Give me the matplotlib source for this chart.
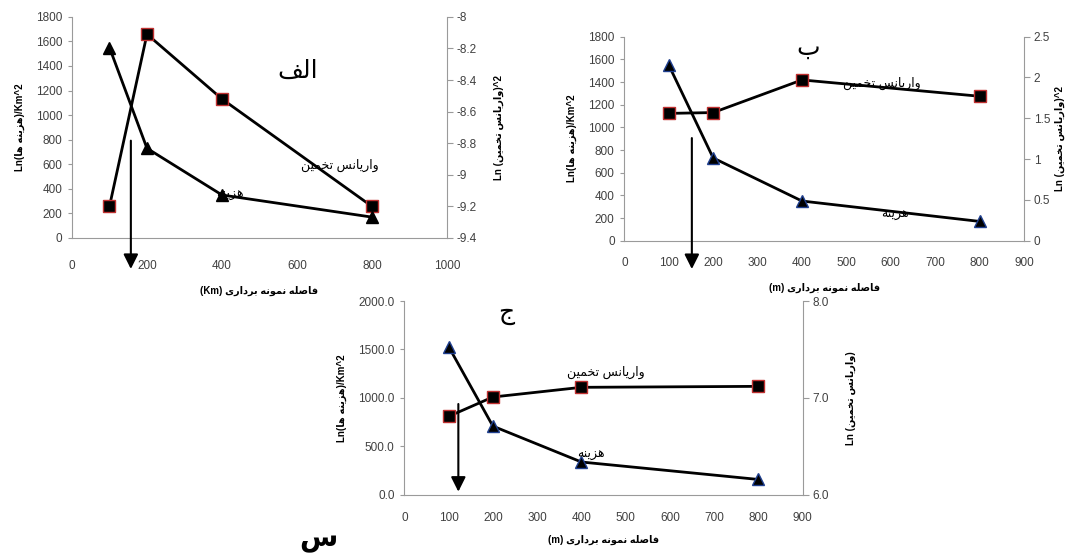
import matplotlib
matplotlib.use('Agg')
import matplotlib.pyplot as plt

plt.rcParams['font.family'] = ['Liberation Sans', 'DejaVu Sans']

# ----- DATA -----
x_km = [100, 200, 400, 800]
cost_a = [1550, 730, 350, 170]
var_a = [-9.2, -8.11, -8.52, -9.2]

x_m = [100, 200, 400, 800]
cost_b = [1550, 730, 350, 170]
var_b = [1.56, 1.57, 1.97, 1.77]

cost_c = [1530, 710, 340, 160]
var_c = [6.81, 7.01, 7.11, 7.12]

# ----- simple persian shaping (matplotlib has no bidi / joining) -----
FORMS = {
    'ا': ('\uFE8D', '\uFE8E', None, None),
    'ب': ('\uFE8F', '\uFE90', '\uFE91', '\uFE92'),
    'ت': ('\uFE95', '\uFE96', '\uFE97', '\uFE98'),
    'ج': ('\uFE9D', '\uFE9E', '\uFE9F', '\uFEA0'),
    'خ': ('\uFEA5', '\uFEA6', '\uFEA7', '\uFEA8'),
    'د': ('\uFEA9', '\uFEAA', None, None),
    'ر': ('\uFEAD', '\uFEAE', None, None),
    'ز': ('\uFEAF', '\uFEB0', None, None),
    'س': ('\uFEB1', '\uFEB2', '\uFEB3', '\uFEB4'),
    'ص': ('\uFEB9', '\uFEBA', '\uFEBB', '\uFEBC'),
    'ف': ('\uFED1', '\uFED2', '\uFED3', '\uFED4'),
    'ل': ('\uFEDD', '\uFEDE', '\uFEDF', '\uFEE0'),
    'م': ('\uFEE1', '\uFEE2', '\uFEE3', '\uFEE4'),
    'ن': ('\uFEE5', '\uFEE6', '\uFEE7', '\uFEE8'),
    'ه': ('\uFEE9', '\uFEEA', '\uFEEB', '\uFEEC'),
    'و': ('\uFEED', '\uFEEE', None, None),
    'ی': ('\uFEEF', '\uFEF0', '\uFEF3', '\uFEF4'),
}


def fa(text):
    out = []
    for i, ch in enumerate(text):
        if ch not in FORMS:
            out.append(ch)
            continue
        prev = text[i - 1] if i > 0 else ''
        nxt = text[i + 1] if i + 1 < len(text) else ''
        join_prev = prev in FORMS and FORMS[prev][2] is not None
        join_next = nxt in FORMS and FORMS[ch][2] is not None
        iso, fin, ini, med = FORMS[ch]
        if join_prev and join_next:
            out.append(med)
        elif join_prev:
            out.append(fin)
        elif join_next:
            out.append(ini)
        else:
            out.append(iso)
    return ''.join(out)[::-1]


lbl_var = fa('واریانس تخمین')
lbl_cost = fa('هزینه')
ylab_left = 'Ln(' + fa('هزینه ها') + ')/Km^2'
ylab_right = 'Ln (' + fa('واریانس تخمین') + ')^2'
xlab_km = '(Km) ' + fa('فاصله نمونه برداری')
xlab_m = '(m) ' + fa('فاصله نمونه برداری')

fig = plt.figure(figsize=(10.68, 5.6), dpi=100)

TICKC = '#404040'
SPC = '#9a9a9a'


def style(ax, ax2, xpad):
    for s in ['top', 'right']:
        ax.spines[s].set_visible(False)
    ax.spines['left'].set_color(SPC)
    ax.spines['bottom'].set_color(SPC)
    for s in ['top', 'left', 'bottom']:
        ax2.spines[s].set_visible(False)
    ax2.spines['right'].set_color(SPC)
    ax.tick_params(axis='y', colors=SPC, labelcolor=TICKC, labelsize=8.5, length=3, pad=4)
    ax.tick_params(axis='x', colors=SPC, labelcolor=TICKC, labelsize=8.5, length=0, pad=xpad)
    ax2.tick_params(axis='y', colors=SPC, labelcolor=TICKC, labelsize=8.5, length=4, pad=3)
    ax.set_facecolor('none')


def draw(ax, ax2, x, cost, var, tri_edge):
    ax2.plot(x, var, color='black', lw=2, marker='s', ms=9,
             mfc='black', mec='#c03030', mew=1, zorder=3)
    ax.plot(x, cost, color='black', lw=2, marker='^', ms=8,
            mfc='black', mec=tri_edge, mew=1, zorder=3)


def arrow(ax, x, y_top, y_tip):
    ax.annotate('', xy=(x, y_tip), xytext=(x, y_top),
                xycoords=('data', 'axes fraction'), textcoords=('data', 'axes fraction'),
                arrowprops=dict(arrowstyle='-|>', color='black', lw=1.5,
                                mutation_scale=22, shrinkA=0, shrinkB=0),
                annotation_clip=False)


# ----- panel alef -----
ax1 = fig.add_axes([0.0674, 0.575, 0.3511, 0.395])
ax1b = ax1.twinx()
ax1.set_zorder(ax1b.get_zorder() + 1)
draw(ax1, ax1b, x_km, cost_a, var_a, 'black')
ax1.set_xlim(0, 1000)
ax1.set_ylim(0, 1800)
ax1.set_xticks(range(0, 1001, 200))
ax1.set_yticks(range(0, 1801, 200))
ax1b.set_ylim(-9.4, -8)
ax1b.set_yticks([-9.4, -9.2, -9, -8.8, -8.6, -8.4, -8.2, -8])
ax1b.set_yticklabels(['-9.4', '-9.2', '-9', '-8.8', '-8.6', '-8.4', '-8.2', '-8'])
style(ax1, ax1b, 16)
ax1.set_ylabel(ylab_left, fontsize=7, fontweight='bold', labelpad=8)
ax1b.set_ylabel(ylab_right, fontsize=7, fontweight='bold', labelpad=12)
ax1.set_xlabel(xlab_km, fontsize=7, fontweight='bold', labelpad=10)
ax1.text(603, 1357, fa('الف'), fontsize=18, ha='center', va='center')
ax1.text(715, 593, lbl_var, fontsize=9, ha='center', va='center')
ax1.text(421, 349, lbl_cost, fontsize=9, ha='center', va='center')
arrow(ax1, 157, 0.44, -0.14)

# ----- panel be -----
ax2 = fig.add_axes([0.5846, 0.5702, 0.3742, 0.3643])
ax2b = ax2.twinx()
ax2.set_zorder(ax2b.get_zorder() + 1)
draw(ax2, ax2b, x_m, cost_b, var_b, '#1f3f8f')
ax2.set_xlim(0, 900)
ax2.set_ylim(0, 1800)
ax2.set_xticks(range(0, 901, 100))
ax2.set_yticks(range(0, 1801, 200))
ax2b.set_ylim(0, 2.5)
ax2b.set_yticks([0, 0.5, 1, 1.5, 2, 2.5])
ax2b.set_yticklabels(['0', '0.5', '1', '1.5', '2', '2.5'])
style(ax2, ax2b, 12)
ax2.set_ylabel(ylab_left, fontsize=7, fontweight='bold', labelpad=8)
ax2b.set_ylabel(ylab_right, fontsize=7, fontweight='bold', labelpad=3)
ax2.set_xlabel(xlab_m, fontsize=7, fontweight='bold', labelpad=10)
ax2.text(414, 1700, fa('ب'), fontsize=18, ha='center', va='center')
ax2.text(581, 1389, lbl_var, fontsize=9, ha='center', va='center')
ax2.text(609, 227, lbl_cost, fontsize=9, ha='center', va='center')
arrow(ax2, 152, 0.503, -0.139)

# ----- panel jim -----
ax3 = fig.add_axes([0.3786, 0.1161, 0.373, 0.3464])
ax3b = ax3.twinx()
ax3.set_zorder(ax3b.get_zorder() + 1)
draw(ax3, ax3b, x_m, cost_c, var_c, '#1f3f8f')
ax3.set_xlim(0, 900)
ax3.set_ylim(0, 2000)
ax3.set_xticks(range(0, 901, 100))
ax3.set_yticks([0, 500, 1000, 1500, 2000])
ax3.set_yticklabels(['0.0', '500.0', '1000.0', '1500.0', '2000.0'])
ax3b.set_ylim(6, 8)
ax3b.set_yticks([6, 7, 8])
ax3b.set_yticklabels(['6.0', '7.0', '8.0'])
style(ax3, ax3b, 12)
ax3.set_ylabel(ylab_left, fontsize=7, fontweight='bold', labelpad=8)
ax3b.set_ylabel('Ln (' + fa('واریانس تخمین') + ')', fontsize=7, fontweight='bold', labelpad=12)
ax3.set_xlabel(xlab_m, fontsize=7, fontweight='bold', labelpad=8)
ax3.text(231, 1876, fa('ج'), fontsize=18, ha='center', va='center')
ax3.text(455, 1261, lbl_var, fontsize=9, ha='center', va='center')
ax3.text(421, 412, lbl_cost, fontsize=9, ha='center', va='center')
arrow(ax3, 122, 0.469, 0.017)

fig.text(318 / 1068, 1 - 540 / 560, fa('س'), fontsize=20, fontweight='bold',
         ha='center', va='center')

fig.savefig('out.png', dpi=100)
